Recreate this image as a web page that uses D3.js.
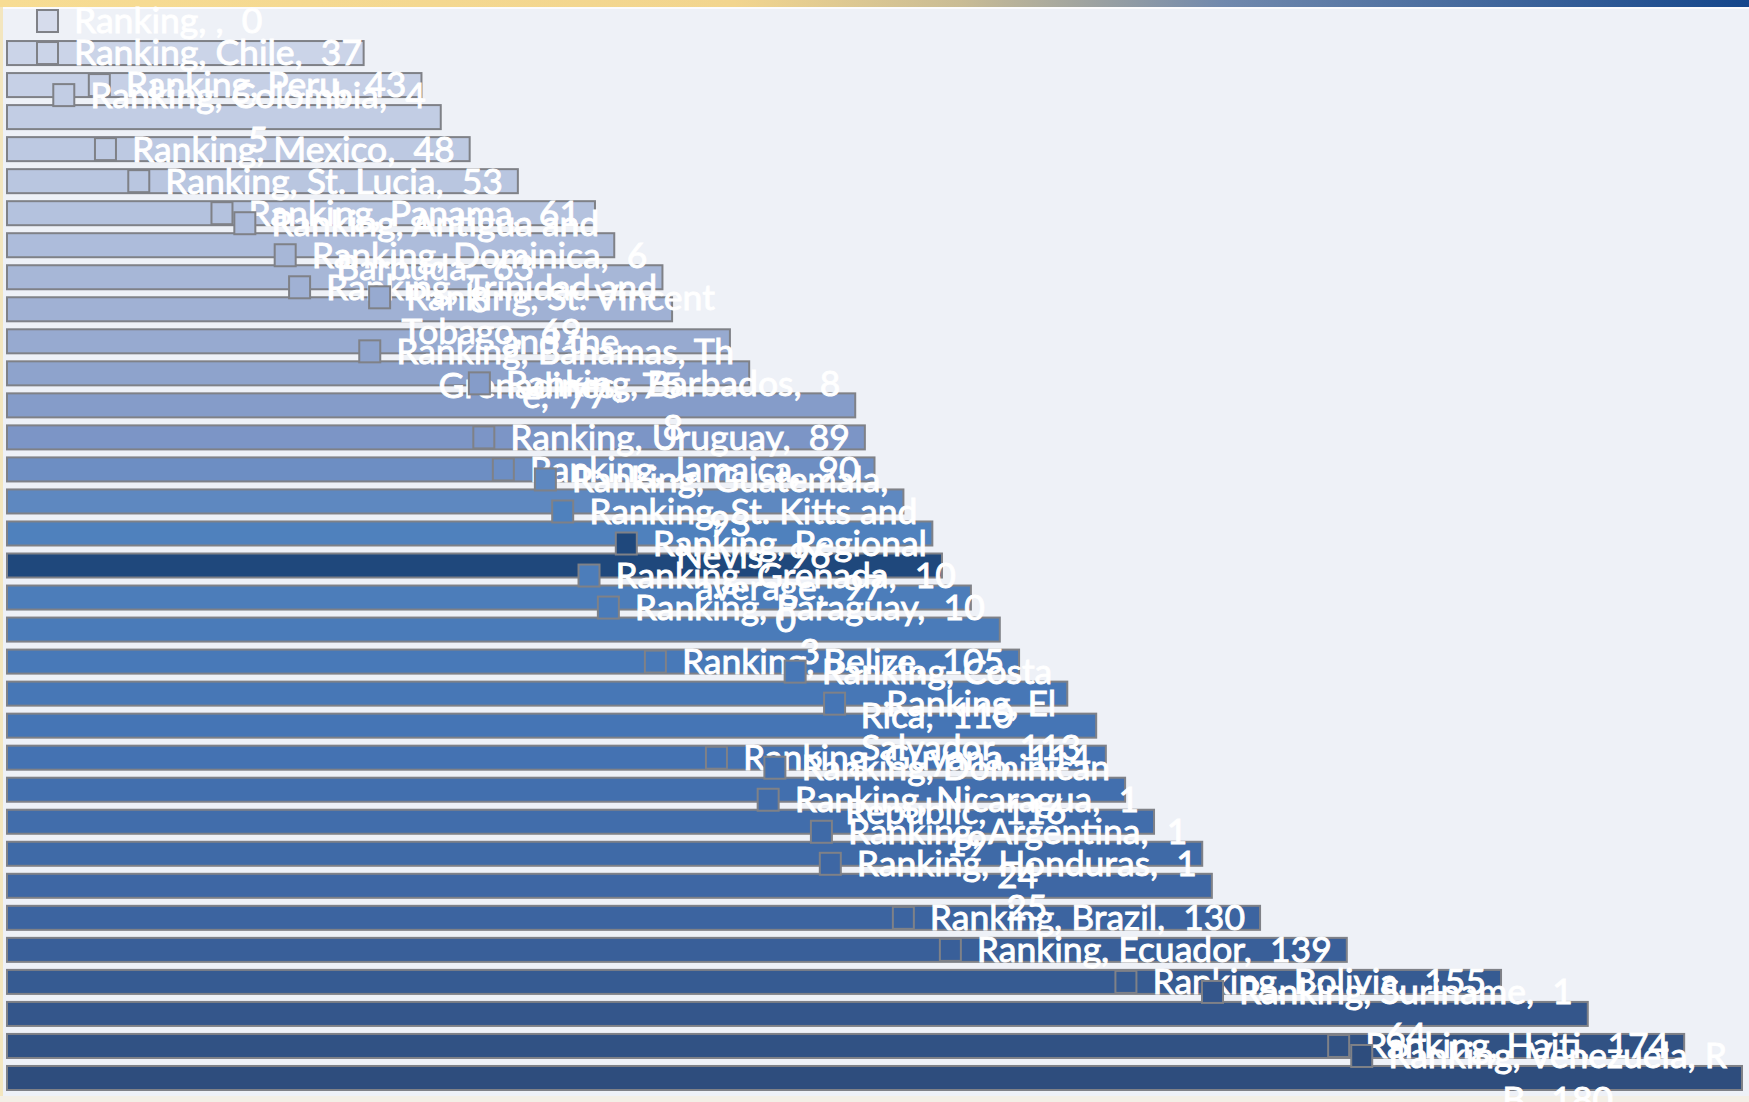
<!DOCTYPE html>
<html>
<head>
<meta charset="utf-8">
<script src="https://cdn.jsdelivr.net/npm/d3@7/dist/d3.min.js"></script>
<style>
html, body { margin: 0; padding: 0; background: #eef1f7; overflow: hidden; }
svg { display: block; }
</style>
</head>
<body>
<div id="chart"></div>
<script>
//Categories, top to bottom (first row is an empty category with no value)
var countries = ["", "Chile", "Peru", "Colombia", "Mexico", "St. Lucia", "Panama",
    "Antigua and Barbuda", "Dominica", "Trinidad and Tobago", "St. Vincent and the Grenadines",
    "Bahamas, The", "Barbados", "Uruguay", "Jamaica", "Guatemala", "St. Kitts and Nevis",
    "Regional average", "Grenada", "Paraguay", "Belize", "Costa Rica", "El Salvador", "Guyana",
    "Dominican Republic", "Nicaragua", "Argentina", "Honduras", "Brazil", "Ecuador", "Bolivia",
    "Suriname", "Haiti", "Venezuela, RB"];

//Ranking values
var rankings = [0, 37, 43, 45, 48, 53, 61, 63, 68, 69, 75, 77, 88, 89, 90, 93, 96, 97,
    100, 103, 105, 110, 113, 114, 116, 119, 124, 125, 130, 139, 155, 164, 174, 180];

//Data label text as it wraps in the picture ("|" = line break)
var labelText = [
    "Ranking, ,  0", "Ranking, Chile,  37", "Ranking, Peru,  43", "Ranking, Colombia,  4|5",
    "Ranking, Mexico,  48", "Ranking, St. Lucia,  53", "Ranking, Panama,  61",
    "Ranking, Antigua and|Barbuda,  63", "Ranking, Dominica,  6|8",
    "Ranking, Trinidad and|Tobago,  69", "Ranking, St. Vincent|and the|Grenadines,  75",
    "Ranking, Bahamas, Th|e,  77", "Ranking, Barbados,  8|8", "Ranking, Uruguay,  89",
    "Ranking, Jamaica,  90", "Ranking, Guatemala,|93", "Ranking, St. Kitts and|Nevis,  96",
    "Ranking, Regional|average,  97", "Ranking, Grenada,  10|0", "Ranking, Paraguay,  10|3",
    "Ranking, Belize,  105", "Ranking, Costa|Rica,  110", "Ranking, El|Salvador,  113",
    "Ranking, Guyana,  114", "Ranking, Dominican|Republic,  116", "Ranking, Nicaragua,  1|19",
    "Ranking, Argentina,  1|24", "Ranking, Honduras,  1|25", "Ranking, Brazil,  130",
    "Ranking, Ecuador,  139", "Ranking, Bolivia,  155", "Ranking, Suriname,  1|64",
    "Ranking, Haiti,  174", "Ranking, Venezuela, R|B,  180"];

var highlight = "Regional average";

//SVG sizes and margins
var width = 1749,
    height = 1102,
    margin = {top: 5, right: 7, bottom: 8, left: 7};

var fontSize = 35.5,
    lineHeight = 44,
    keyW = 21, keyH = 22, keyGap = 16,
    inset = 15, minKeyLeft = 37;

var svg = d3.select("#chart").append("svg")
    .attr("width", width)
    .attr("height", height);

var defs = svg.append("defs");
var topGrad = defs.append("linearGradient").attr("id", "topband");
[["0%", "#f7dc93"], ["42%", "#f2d58e"], ["55%", "#c9bc95"], ["70%", "#7189ad"], ["100%", "#15478c"]]
    .forEach(function (s) { topGrad.append("stop").attr("offset", s[0]).attr("stop-color", s[1]); });

//background
svg.append("rect").attr("width", width).attr("height", height).attr("fill", "#eef1f7");
svg.append("rect").attr("width", width).attr("height", 7).attr("fill", "url(#topband)");
svg.append("rect").attr("y", 7).attr("width", width).attr("height", 2).attr("fill", "#fbfbfd");
svg.append("rect").attr("y", 7).attr("width", 3).attr("height", height).attr("fill", "#f3e6bf");
svg.append("rect").attr("y", height - 6).attr("width", width).attr("height", 6).attr("fill", "#f3efe6");

//scales
var x = d3.scaleLinear()
    .domain([0, 180])
    .range([margin.left, width - margin.right]);

var y = d3.scaleBand()
    .domain(d3.range(countries.length))
    .range([margin.top, height - margin.bottom])
    .paddingInner(0.25)
    .paddingOuter(0.125);

var shade = d3.scaleLinear()
    .domain([0, 1, 6, 9, 11, 13, 16, 22, 28, 33])
    .range(["#d6dcec", "#cbd4e8", "#b4c2de", "#a0b1d4", "#8ea3cc", "#7c95c6", "#4f81bd", "#4575b5", "#3c64a0", "#2e4d7d"])
    .interpolate(d3.interpolateRgb);

function barColor(i) {
    return countries[i] === highlight ? "#1f487c" : shade(i);
}

//Draw the bars
svg.append("g")
    .selectAll("rect")
    .data(rankings)
    .enter().append("rect")
    .attr("x", x(0))
    .attr("y", function (d, i) { return y(i); })
    .attr("width", function (d) { return x(d) - x(0); })
    .attr("height", y.bandwidth())
    .attr("fill", function (d, i) { return barColor(i); })
    .attr("stroke", "#7f8187")
    .attr("stroke-width", 2)
    .style("display", function (d) { return d > 0 ? null : "none"; });

//Draw the data labels: legend key + wrapped text, inside the bar end
var labels = svg.append("g");
rankings.forEach(function (v, i) {
    var lines = labelText[i].split("|");
    var g = labels.append("g");
    var cy = y(i) + y.bandwidth() / 2;
    var firstY = cy - (lines.length - 1) * lineHeight / 2;

    var texts = lines.map(function (t, k) {
        return g.append("text")
            .attr("xml:space", "preserve")
            .style("white-space", "pre")
            .attr("y", firstY + k * lineHeight)
            .attr("dy", "0.35em")
            .attr("text-anchor", "middle")
            .attr("font-family", "Lato, 'Open Sans', sans-serif")
            .attr("font-size", fontSize)
            .attr("fill", "#ffffff")
            .attr("stroke", "#ffffff")
            .attr("stroke-width", 0.9)
            .text(t);
    });
    var boxW = d3.max(texts, function (t) { return t.node().getComputedTextLength(); });
    var boxRight = x(v) - inset;
    var keyLeft = boxRight - boxW - keyGap - keyW;
    if (keyLeft < minKeyLeft) {
        boxRight += minKeyLeft - keyLeft;
        keyLeft = minKeyLeft;
    }
    var boxLeft = boxRight - boxW;
    texts.forEach(function (t) { t.attr("x", boxLeft + boxW / 2); });

    g.insert("rect", "text")
        .attr("x", keyLeft)
        .attr("y", firstY - keyH / 2)
        .attr("width", keyW)
        .attr("height", keyH)
        .attr("fill", barColor(i))
        .attr("stroke", "#7f8187")
        .attr("stroke-width", 2);
});
</script>
</body>
</html>
